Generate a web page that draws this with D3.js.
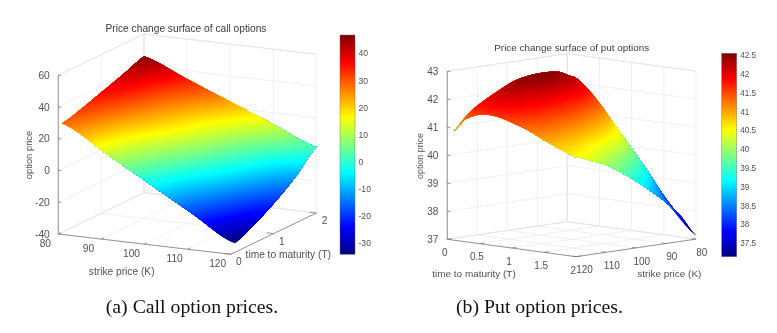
<!DOCTYPE html>
<html>
<head>
<meta charset="utf-8">
<script src="https://cdnjs.cloudflare.com/ajax/libs/d3/7.8.5/d3.min.js"></script>
<style>
html,body{margin:0;padding:0;background:#fff;}
svg{display:block;filter:blur(0.45px);}
text{font-family:"Liberation Sans",Arial,sans-serif;}
</style>
</head>
<body>
<script>
// ---- data ----
const callStrikes = [80, 90, 100, 110, 120];
const callMaturities = [0.1, 0.5, 1, 1.5, 2];
const callPrices = [ // row per maturity, column per strike
  [28.5, 12.8, -2.9, -18.6, -34.3],
  [31.5, 16.5,  1.6, -13.7, -29.0],
  [36.0, 23.0, 10.0,  -5.5, -21.0],
  [40.7, 28.6, 16.2,   2.8, -11.0],
  [45.7, 34.6, 23.6,  12.6,   1.5]
];
const callKTicks = [80, 90, 100, 110, 120];
const callTTicks = [0, 1, 2];
const callZTicks = [-40, -20, 0, 20, 40, 60];
const callBarTicks = [-30, -20, -10, 0, 10, 20, 30, 40];

const putStrikes = [120, 115, 110, 105, 100, 95, 90, 85, 80];
const putMaturities = [0.1, 0.25, 0.5, 0.75, 1, 1.25, 1.5, 1.75, 2];
const putPrices = [ // row per maturity, column per strike
  [40.90, 41.45, 41.81, 42.10, 42.35, 42.47, 42.50, 42.45, 42.20],
  [41.34, 41.80, 42.07, 42.27, 42.44, 42.47, 42.42, 42.29, 41.96],
  [41.62, 41.94, 42.11, 42.19, 42.25, 42.18, 42.03, 41.80, 41.38],
  [41.64, 41.85, 41.92, 41.91, 41.86, 41.70, 41.47, 41.15, 40.65],
  [41.49, 41.60, 41.60, 41.51, 41.39, 41.16, 40.87, 40.48, 39.93],
  [41.29, 41.31, 41.24, 41.08, 40.88, 40.59, 40.24, 39.80, 39.18],
  [41.02, 40.95, 40.82, 40.58, 40.31, 39.96, 39.55, 39.05, 38.39],
  [40.77, 40.63, 40.45, 40.15, 39.81, 39.41, 38.97, 38.41, 37.72],
  [40.57, 40.36, 40.13, 39.78, 39.39, 38.95, 38.47, 37.88, 37.15]
];
const putKTicks = [80, 90, 100, 110, 120];
const putTTicks = [0, 0.5, 1, 1.5, 2];
const putZTicks = [37, 38, 39, 40, 41, 42, 43];
const putBarTicks = [37.5, 38, 38.5, 39, 39.5, 40, 40.5, 41, 41.5, 42, 42.5];

const jetStops = ["#000080", "#0000ff", "#00ffff", "#ffff00", "#ff0000", "#800000"];
const jetAt = [0, 1/8, 3/8, 5/8, 7/8, 1];

const svg = d3.select("body").append("svg").attr("width", 777).attr("height", 333);
const defs = svg.append("defs");

const AXIS = "#7c7c7c", GRID = "#ececec", WALL = "#e2e2e2", TXT = "#505050";

// smooth curve through the read nodes, used only to shade between them
function spline(a, i, u) {
  const p0 = a[Math.max(i - 1, 0)], p1 = a[i], p2 = a[i + 1], p3 = a[Math.min(i + 2, a.length - 1)];
  return 0.5 * (2 * p1 + (p2 - p0) * u + (2 * p0 - 5 * p1 + 4 * p2 - p3) * u * u + (3 * p1 - p0 - 3 * p2 + p3) * u * u * u);
}

function drawChart(c) {
  const g = svg.append("g");
  const kx = d3.scaleLinear().domain([80, 120]).range(c.kx);
  const ky = d3.scaleLinear().domain([80, 120]).range(c.ky);
  const tx = d3.scaleLinear().domain([0, 2]).range(c.tx);
  const ty = d3.scaleLinear().domain([0, 2]).range(c.ty);
  const zy = d3.scaleLinear().domain(c.zDom).range(c.zy);
  const P = (K, T, z) => [kx(K) + tx(T), ky(K) + ty(T) + zy(z)];
  const [z0, z1] = c.zDom;
  const lineOf = d3.line();
  const seg = (a, b, col, w) => g.append("path").attr("d", lineOf([a, b]))
    .attr("fill", "none").attr("stroke", col).attr("stroke-width", w);

  // floor grid
  c.kTicks.forEach(K => seg(P(K, 0, z0), P(K, 2, z0), GRID, 0.8));
  c.tTicks.forEach(T => seg(P(80, T, z0), P(120, T, z0), GRID, 0.8));
  // back walls
  c.tTicks.forEach(T => seg(P(c.backK, T, z0), P(c.backK, T, z1), GRID, 0.8));
  c.kTicks.forEach(K => seg(P(K, c.backT, z0), P(K, c.backT, z1), GRID, 0.8));
  c.zTicks.forEach(z => {
    seg(P(c.backK, 0, z), P(c.backK, 2, z), GRID, 0.8);
    seg(P(80, c.backT, z), P(120, c.backT, z), GRID, 0.8);
  });
  // wall outlines
  seg(P(c.backK, 0, z1), P(c.backK, 2, z1), WALL, 0.8);
  seg(P(80, c.backT, z1), P(120, c.backT, z1), WALL, 0.8);
  seg(P(c.backK, c.backT, z0), P(c.backK, c.backT, z1), WALL, 0.8);
  seg(P(c.backK, 0, z0), P(c.backK, 2, z0), WALL, 0.8);
  seg(P(80, c.backT, z0), P(120, c.backT, z0), WALL, 0.8);

  // colour scale
  const [v0, v1] = c.cRange;
  const jet = d3.scaleLinear().domain(jetAt.map(f => v0 + f * (v1 - v0))).range(jetStops).clamp(true);

  // surface: stacked filled iso-regions, projected to the screen
  const Ks = c.strikes, Ts = c.maturities, Z = c.prices, m = c.sub;
  const nK = Ks.length, nT = Ts.length;
  const w = (nK - 1) * m + 1, h = (nT - 1) * m + 1;
  const locate = (f, n) => { const i = Math.min(Math.floor(f), n - 2); return [i, f - i]; };
  const zAt = (fK, fT) => {
    const [i, u] = locate(fK, nK), [j, v] = locate(fT, nT);
    return spline(Z.map(r => spline(r, i, u)), j, v);
  };
  const vertex = ([cx, cy]) => {
    const fK = Math.max(0, Math.min(nK - 1, (cx - 0.5) / m));
    const fT = Math.max(0, Math.min(nT - 1, (cy - 0.5) / m));
    const [i, u] = locate(fK, nK), [j, v] = locate(fT, nT);
    return P(Ks[i] + (Ks[i + 1] - Ks[i]) * u, Ts[j] + (Ts[j + 1] - Ts[j]) * v, zAt(fK, fT));
  };
  const fine = new Array(w * h);
  for (let y = 0; y < h; y++) for (let x = 0; x < w; x++) fine[y * w + x] = zAt(x / m, y / m);
  const [lo, hi] = d3.extent(fine);
  const levels = d3.range(c.bands).map(q => lo - 1e-6 + (hi - lo) * q / c.bands);
  const bands = d3.contours().size([w, h]).smooth(true).thresholds(levels)(fine);
  const step = (hi - lo) / c.bands;
  g.append("g").attr("stroke-linejoin", "round").selectAll("path").data(bands).join("path")
    .attr("d", b => b.coordinates.map(poly => poly.map(ring => lineOf(ring.map(vertex)) + "Z").join("")).join(""))
    .attr("fill", b => jet(b.value + step / 2))
    .attr("stroke", b => jet(b.value + step / 2))
    .attr("stroke-width", 0.25);

  // axes in front
  seg(P(c.axisK, c.axisT, z0), P(c.axisK, c.axisT, z1), "#a6a6a6", 1.3);
  seg(P(80, c.frontT, z0), P(120, c.frontT, z0), AXIS, 0.8);
  seg(P(c.frontK, 0, z0), P(c.frontK, 2, z0), AXIS, 0.8);
  c.zTicks.forEach(z => {
    const p = P(c.axisK, c.axisT, z);
    seg(p, [p[0] + c.zTickLen, p[1]], AXIS, 0.8);
    g.append("text").attr("x", p[0] + c.zLabelDx).attr("y", p[1]).attr("dy", "0.36em")
      .attr("text-anchor", "end").attr("font-size", c.tickFont).attr("fill", TXT).text(z);
  });
  const tFrac = c.frontT === 0 ? 0.06 : 1.94;
  c.kTicks.forEach(K => {
    seg(P(K, c.frontT, z0), P(K, tFrac, z0), AXIS, 0.8);
    const p = P(K, c.frontT, z0);
    g.append("text").attr("x", p[0] + c.kLabel(K)[0]).attr("y", p[1] + c.kLabel(K)[1]).attr("dy", "0.36em")
      .attr("text-anchor", "middle").attr("font-size", c.tickFont).attr("fill", TXT).text(K);
  });
  const kFrac = c.frontK === 120 ? 118.4 : 81.6;
  c.tTicks.forEach(T => {
    seg(P(c.frontK, T, z0), P(kFrac, T, z0), AXIS, 0.8);
    const p = P(c.frontK, T, z0);
    g.append("text").attr("x", p[0] + c.tLabel[0]).attr("y", p[1] + c.tLabel[1]).attr("dy", "0.36em")
      .attr("text-anchor", "middle").attr("font-size", c.tickFont).attr("fill", TXT).text(T);
  });

  // titles and labels
  g.append("text").attr("x", c.title[0]).attr("y", c.title[1]).attr("dy", "0.36em")
    .attr("text-anchor", "middle").attr("font-size", c.titleFont).attr("fill", "#3a3a3a").text(c.titleText);
  g.append("text").attr("transform", `translate(${c.zLab[0]},${c.zLab[1]}) rotate(-90)`).attr("dy", "0.36em")
    .attr("text-anchor", "middle").attr("font-size", c.zLabFont).attr("fill", TXT).text("option price");
  g.append("text").attr("x", c.kLab[0]).attr("y", c.kLab[1]).attr("dy", "0.36em")
    .attr("text-anchor", "middle").attr("font-size", c.labelFont).attr("fill", TXT).text("strike price (K)");
  g.append("text").attr("x", c.tLab[0]).attr("y", c.tLab[1]).attr("dy", "0.36em")
    .attr("text-anchor", "middle").attr("font-size", c.labelFont).attr("fill", TXT).text("time to maturity (T)");

  // colour bar
  const by = d3.scaleLinear().domain(c.cRange).range([c.bar.y1, c.bar.y0]);
  const grad = defs.append("linearGradient").attr("id", c.id).attr("x1", 0).attr("x2", 0).attr("y1", 1).attr("y2", 0);
  jetAt.forEach((f, i) => grad.append("stop").attr("offset", f).attr("stop-color", jetStops[i]));
  g.append("rect").attr("x", c.bar.x).attr("y", c.bar.y0).attr("width", c.bar.w).attr("height", c.bar.y1 - c.bar.y0)
    .attr("fill", `url(#${c.id})`).attr("stroke", "#666").attr("stroke-width", 0.4);
  c.barTicks.forEach(v => {
    g.append("text").attr("x", c.bar.x + c.bar.w + c.bar.gap).attr("y", by(v)).attr("dy", "0.36em")
      .attr("font-size", c.barFont).attr("fill", TXT).text(v);
  });
}

drawChart({
  id: "jetCall", titleText: "Price change surface of call options",
  strikes: callStrikes, maturities: callMaturities, prices: callPrices,
  kTicks: callKTicks, tTicks: callTTicks, zTicks: callZTicks, barTicks: callBarTicks,
  kx: [58.3, 230.7], ky: [234, 254.3], tx: [0, 85.7], ty: [0, -41.3], zDom: [-40, 60], zy: [0, -158.7],
  backK: 80, backT: 2, frontK: 120, frontT: 0, axisK: 80, axisT: 0,
  cRange: [-34.3, 46.8], sub: 40, bands: 160,
  zTickLen: 3, zLabelDx: -8.5, tickFont: 10.2, titleFont: 10.2, labelFont: 10.2, zLabFont: 9.4, barFont: 8.6,
  kLabel: () => [-13, 9.3], tLabel: [8.2, 7.5],
  title: [186, 28], zLab: [29, 155], kLab: [121.7, 271.7], tLab: [288.3, 254.3],
  bar: { x: 340, w: 15, y0: 35, y1: 254.3, gap: 3.5 }
});

drawChart({
  id: "jetPut", titleText: "Price change surface of put options",
  strikes: putStrikes, maturities: putMaturities, prices: putPrices,
  kTicks: putKTicks, tTicks: putTTicks, zTicks: putZTicks, barTicks: putBarTicks,
  kx: [567.3, 447.3], ky: [221.7, 239.3], tx: [0, 128.7], ty: [0, 17.4], zDom: [37, 43], zy: [0, -168],
  backK: 80, backT: 0, frontK: 120, frontT: 2, axisK: 120, axisT: 0,
  cRange: [37.14, 42.55], sub: 20, bands: 160,
  zTickLen: 3, zLabelDx: -9, tickFont: 10, titleFont: 9.9, labelFont: 9.95, zLabFont: 8.9, barFont: 8.2,
  kLabel: K => [K === 120 ? 8.5 : 5.8, 13], tLabel: [-2.6, 13.2],
  title: [571.7, 47.3], zLab: [420, 156], kLab: [669.3, 273.3], tLab: [474, 273.3],
  bar: { x: 721.7, w: 15, y0: 53.3, y1: 256.7, gap: 3.5 }
});

// captions
const captions = [["(a) Call option prices.", 192], ["(b) Put option prices.", 539.5]];
svg.selectAll("text.cap").data(captions).join("text").attr("class", "cap")
  .attr("x", d => d[1]).attr("y", 313).attr("text-anchor", "middle")
  .style("font-family", '"Liberation Serif","Times New Roman",serif')
  .attr("font-size", 19.8).attr("fill", "#111").text(d => d[0]);
</script>
</body>
</html>
